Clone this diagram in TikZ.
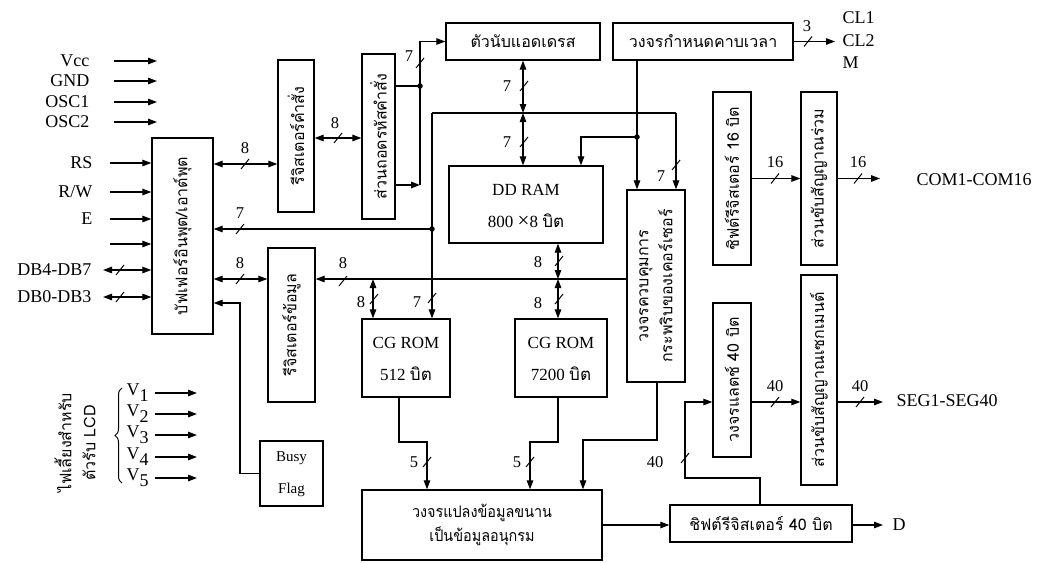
\documentclass[tikz,border=0pt]{standalone}
\usepackage{fontspec}
\setmainfont{Liberation Serif}
\newfontfamily\thai[Script=Thai]{Loma}
\usetikzlibrary{arrows.meta,decorations.pathreplacing,calc}
\tikzset{
  busslash/.pic={\draw[line width=1pt] (-4,5) -- (4,-5);},
  box/.style={draw,line width=1.3pt,inner sep=0pt,align=center},
  arr/.style={-{Triangle[length=9pt,width=6.5pt]}},
  darr/.style={{Triangle[length=9pt,width=6.5pt]}-{Triangle[length=9pt,width=6.5pt]}},
  lab/.style={font=\fontsize{18}{20}\selectfont,inner sep=0pt},
  num/.style={font=\fontsize{16.5}{18}\selectfont,inner sep=0pt},
  blab/.style={font=\fontsize{17}{20}\selectfont,inner sep=0pt},
  th/.style={font=\thai\fontsize{16}{24}\selectfont,inner sep=0pt,align=center},
  jdot/.style={circle,fill,inner sep=0pt,minimum size=5.5pt},
}
\begin{document}
\begin{tikzpicture}[x=1pt,y=-1pt,line width=1.2pt]
\useasboundingbox (0,0) rectangle (1038,562);
\fill[white] (0,0) rectangle (1038,562);

% ---------- boxes ----------
\node[box,minimum width=61,minimum height=196] (buf) at (182.5,236) {};
\node[th,rotate=90] (buft) at (buf.center) {บัฟเฟอร์อินพุต/เอาต์พุต};
\node[box,minimum width=36,minimum height=152] (ir) at (296,136) {};
\node[th,rotate=90] (irt) at (ir.center) {รีจิสเตอร์คำสั่ง};
\node[box,minimum width=33,minimum height=165] (dec) at (378.5,136.5) {};
\node[th,rotate=90] (dect) at (dec.center) {ส่วนถอดรหัสคำสั่ง};
\node[box,minimum width=154,minimum height=37] (ac) at (523,41.5) {};
\node[th] (act) at (ac.center) {ตัวนับแอดเดรส};
\node[box,minimum width=180,minimum height=37] (tim) at (703,41.5) {};
\node[th] (timt) at (tim.center) {วงจรกำหนดคาบเวลา};
\node[box,minimum width=154,minimum height=77] (ddram) at (526,204.5) {};
\node[blab] (ddt1) at (526,190) {DD RAM};
\node[blab] (ddt2) at (526,221) {800 {\fontsize{21}{20}\selectfont ×}8 {\thai บิต}};
\node[box,minimum width=58,minimum height=192] (ctl) at (656,286) {};
\node[th,rotate=90] (ctlt) at (ctl.center) {วงจรควบคุมการ\\กระพริบของเคอร์เซอร์};
\node[box,minimum width=47,minimum height=154] (dr) at (291.5,325) {};
\node[th,rotate=90] (drt) at (dr.center) {รีจิสเตอร์ข้อมูล};
\node[box,minimum width=88,minimum height=78] (cg1) at (406,358) {};
\node[blab] (cg1a) at (406,343) {CG ROM};
\node[blab] (cg1b) at (406,374) {512 {\thai บิต}};
\node[box,minimum width=92,minimum height=78] (cg2) at (561,358) {};
\node[blab] (cg2a) at (561,343) {CG ROM};
\node[blab] (cg2b) at (561,374) {7200 {\thai บิต}};
\node[box,minimum width=240,minimum height=70] (conv) at (482,525) {};
\node[th] (convt) at (conv.center) {\scalebox{0.9}[1]{วงจรแปลงข้อมูลขนาน}\\\scalebox{0.9}[1]{เป็นข้อมูลอนุกรม}};
\node[box,minimum width=182,minimum height=37] (sr40) at (761,523.5) {};
\node[th] (sr40t) at (sr40.center) {ชิฟต์รีจิสเตอร์ 40 บิต};
\node[box,minimum width=38,minimum height=154] (latch) at (732,380) {};
\node[th,rotate=90] (latcht) at (latch.center) {วงจรแลตช์ 40 บิต};
\node[box,minimum width=36,minimum height=210] (segdrv) at (819,380) {};
\node[th,rotate=90] (segdrvt) at (segdrv.center) {ส่วนขับสัญญาณเซกเมนต์};
\node[box,minimum width=38,minimum height=173] (sr16) at (732,178.5) {};
\node[th,rotate=90] (sr16t) at (sr16.center) {ชิฟต์รีจิสเตอร์ 16 บิต};
\node[box,minimum width=36,minimum height=173] (comdrv) at (819,178.5) {};
\node[th,rotate=90] (comdrvt) at (comdrv.center) {ส่วนขับสัญญาณร่วม};
\node[box,minimum width=63,minimum height=65] (busy) at (291.5,473.5) {};
\node[lab,font=\fontsize{15}{20}\selectfont] (busya) at (291.5,458) {Busy};
\node[lab,font=\fontsize{15}{20}\selectfont] (busyb) at (291.5,490) {Flag};

% ---------- left inputs ----------
\node[lab,anchor=east] (vcc) at (90,61) {Vcc};
\node[lab,anchor=east] (gnd) at (90,81) {GND};
\node[lab,anchor=east] (osc1) at (90,102) {OSC1};
\node[lab,anchor=east] (osc2) at (90,122) {OSC2};
\foreach \n/\y in {vs/61,gs/81,o1s/102,o2s/122}{\coordinate (\n) at (114,\y);}
\foreach \n in {vs,gs,o1s,o2s}{\draw[arr] (\n) -- ++(43,0);}

\node[lab,anchor=east] (rs) at (93,163) {RS};
\node[lab,anchor=east] (rw) at (93,192) {R/W};
\node[lab,anchor=east] (en) at (93,219) {E};
\node[lab,anchor=east] (db47) at (92,270) {DB4-DB7};
\node[lab,anchor=east] (db03) at (92,297) {DB0-DB3};
\foreach \n/\y in {rss/163,rws/192,ens/219,bls/244}{\coordinate (\n) at (110,\y);}
\foreach \n in {rss,rws,ens,bls}{\draw[arr] (\n) -- (buf.west |- \n);}
\coordinate (d47) at (103,270);
\coordinate (d03) at (103,297);
\draw[darr] (d47) -- (buf.west |- d47);
\draw[darr] (d03) -- (buf.west |- d03);
\pic at (120,270) {busslash};
\pic at (120,297) {busslash};

% ---------- buffer / registers ----------
\coordinate (y164) at (0,164);
\draw[darr] (buf.east |- y164) -- (ir.west |- y164);
\pic at (245,164) {busslash};
\node[num] (l1) at (245,148) {8};

\coordinate (y138) at (0,138);
\draw[darr] (ir.east |- y138) -- (dec.west |- y138);
\pic at (338,138) {busslash};
\node[num] (l2) at (335,123) {8};

\coordinate (jA) at (420,86);
\coordinate (jB) at (420,185);
\draw (dec.east |- jA) -- (jA);
\draw[arr] (dec.east |- jB) -- (jB);
\draw[arr] (jB) |- (ac.west);
\node[jdot] (dA) at (jA) {};
\pic at (420,63) {busslash};
\node[num] (l3) at (409,56) {7};

% address counter <-> DD RAM
\coordinate (jD) at (523,113);
\draw[darr] (ac.south) -- (jD);
\draw[darr] (jD) -- (ac.south |- ddram.north);
\pic at (524,86) {busslash};
\node[num] (l4) at (507,86) {7};
\pic at (524,142) {busslash};
\node[num] (l5) at (507,142) {7};

% 7-bit line to cursor ctl and CG ROM
\coordinate (jE) at (432,113);
\coordinate (jF) at (676,113);
\coordinate (jG) at (432,229);
\draw (jE) -- (jF);
\draw[arr] (jF) -- (jF |- ctl.north);
\draw[arr] (jE) -- (jE |- cg1.north);
\draw[arr] (jG) -- (buf.east |- jG);
\node[jdot] (dG) at (jG) {};
\pic at (676,165) {busslash};
\node[num] (l6) at (661,176) {7};
\pic at (432,298) {busslash};
\node[num] (l7) at (417,302) {7};
\pic at (240,229) {busslash};
\node[num] (l8) at (240,213) {7};

% timing
\coordinate (jH) at (637,137);
\coordinate (jI) at (581,137);
\draw[arr] (tim.south -| jH) -- (jH |- ctl.north);
\draw[arr] (jH) -- (jI) -- (jI |- ddram.north);
\node[jdot] (dH) at (jH) {};
\coordinate (clo) at (835,41.5);
\draw[arr] (tim.east) -- (clo);
\pic at (808,41.5) {busslash};
\node[num] (l9) at (807,26) {3};
\node[lab,anchor=west] (cl1) at (842,18) {CL1};
\node[lab,anchor=west] (cl2) at (842,41) {CL2};
\node[lab,anchor=west] (mm) at (842,63) {M};

% data bus
\coordinate (bus) at (500,279);
\draw[arr] (ctl.west |- bus) -- (dr.east |- bus);
\pic at (343,281) {busslash};
\node[num] (l10) at (343,263) {8};
\draw[darr] (buf.east |- bus) -- (dr.west |- bus);
\pic at (240,279) {busslash};
\node[num] (l11) at (240,263) {8};

\coordinate (cgx) at (373,279);
\draw[darr] (cgx) -- (cgx |- cg1.north);
\pic at (374,299) {busslash};
\node[num] (l12) at (361,302) {8};

\coordinate (ddx) at (558,279);
\draw[darr] (ddx |- ddram.south) -- (ddx);
\draw[darr] (ddx) -- (ddx |- cg2.north);
\pic at (559,261) {busslash};
\node[num] (l13) at (538,262) {8};
\pic at (559,299) {busslash};
\node[num] (l14) at (538,303) {8};

% CG ROM outputs
\coordinate (c1a) at (399,442);
\coordinate (c1b) at (427,442);
\draw[arr] (c1a |- cg1.south) -- (c1a) -- (c1b) -- (c1b |- conv.north);
\pic at (427,462) {busslash};
\node[num] (l15) at (414,462) {5};
\coordinate (c2a) at (558,442);
\coordinate (c2b) at (530,442);
\draw[arr] (c2a |- cg2.south) -- (c2a) -- (c2b) -- (c2b |- conv.north);
\pic at (530,462) {busslash};
\node[num] (l16) at (517,462) {5};
\coordinate (k1) at (657,440);
\coordinate (k2) at (583,440);
\draw[arr] (k1 |- ctl.south) -- (k1) -- (k2) -- (k2 |- conv.north);

% serial out
\draw[arr] (conv.east) -- (sr40.west |- conv.east);
\coordinate (dout) at (883,525);
\draw[arr] (sr40.east |- dout) -- (dout);
\node[lab,anchor=west] (dd) at (892,525) {D};

\coordinate (f1) at (760,478);
\coordinate (f2) at (685,478);
\coordinate (f3) at (685,402);
\draw[arr] (f1 |- sr40.north) -- (f1) -- (f2) -- (f3) -- (latch.west |- f3);
\pic at (685,458) {busslash};
\node[num] (l17) at (655,462) {40};
\draw[arr] (latch.east |- f3) -- (segdrv.west |- f3);
\pic at (775,402) {busslash};
\node[num] (l18) at (775,386) {40};
\coordinate (segout) at (883,402);
\draw[arr] (segdrv.east |- f3) -- (segout);
\pic at (860,402) {busslash};
\node[num] (l19) at (860,386) {40};
\node[lab,anchor=west] (seg) at (896,401) {SEG1-SEG40};

\draw[arr] (sr16.east) -- (comdrv.west);
\pic at (775,178.5) {busslash};
\node[num] (l20) at (775,162) {16};
\coordinate (comout) at (880,178.5);
\draw[arr] (comdrv.east) -- (comout);
\pic at (858,178.5) {busslash};
\node[num] (l21) at (858,162) {16};
\node[lab,anchor=west] (com) at (916,180) {COM1-COM16};

% busy flag
\coordinate (b2) at (240,303);
\draw[arr] (busy.west) -- (busy.west -| b2) -- (b2) -- (buf.east |- b2);

% LCD voltages
\foreach \i/\y in {1/393,2/414,3/435,4/457,5/478}{
  \node[lab,anchor=west] (v\i) at (126,\y) {V\raisebox{-6pt}{\i}};
  \coordinate (vs\i) at (155,\y);
  \draw[arr] (vs\i) -- ++(42,0);
}
\coordinate (brt) at (122,388);
\coordinate (brb) at (122,483);
\draw[line width=1pt,decorate,decoration={brace,amplitude=7pt}] (brb) -- (brt);
\node[th,rotate=90] (lcdt) at (75,443) {ไฟเลี้ยงสำหรับ\\ตัวรับ LCD};
\end{tikzpicture}
\end{document}
